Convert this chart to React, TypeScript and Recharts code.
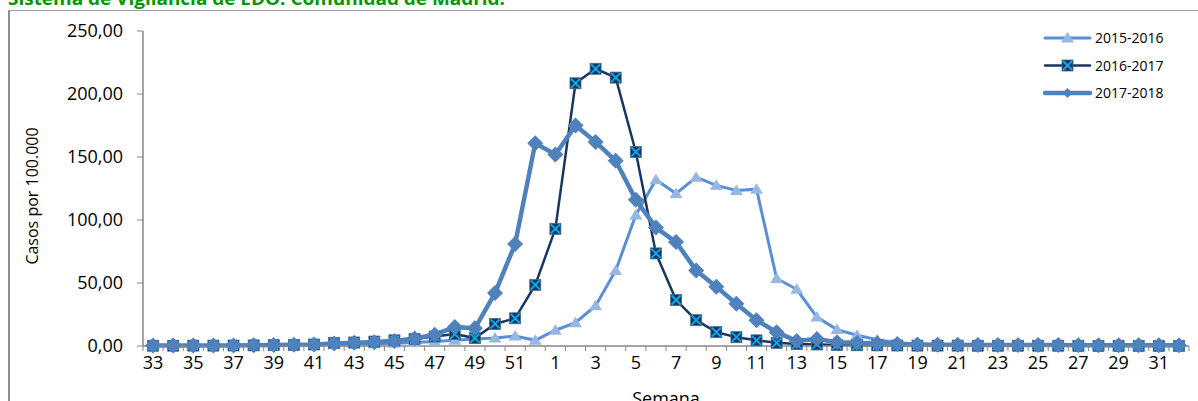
import React from 'react';
import { LineChart, Line, XAxis, YAxis } from 'recharts';

const weeks: number[] = [
  33, 34, 35, 36, 37, 38, 39, 40, 41, 42, 43, 44, 45, 46, 47, 48, 49, 50, 51, 52,
  1, 2, 3, 4, 5, 6, 7, 8, 9, 10, 11, 12, 13, 14, 15, 16, 17, 18, 19, 20, 21, 22, 23, 24, 25, 26, 27, 28, 29, 30, 31, 32,
];

const s1516: number[] = [
  0.3, 0.3, 0.3, 0.4, 0.5, 0.6, 0.7, 0.9, 1, 1.2, 1.5, 1.8, 2.2, 2.8, 3.5, 4.5, 5.5, 6.3, 8, 4.5,
  12.5, 18.5, 32, 60, 104, 132, 121, 134, 127.5, 123.5, 124.5, 53.5, 45, 23, 13, 8.5, 5, 2.5, 1.5, 1, 0.8, 0.6,
  0.5, 0.4, 0.4, 0.3, 0.3, 0.3, 0.2, 0.2, 0.2, 0.2,
];

const s1617: number[] = [
  0.2, 0.2, 0.3, 0.3, 0.4, 0.5, 0.7, 0.9, 1.2, 2.5, 2.8, 3.5, 4.5, 5.5, 7.5, 9.5, 6.3, 17.5, 22, 48.5,
  93, 208.5, 220, 213, 154, 73.5, 36.5, 20.5, 11, 7, 4.5, 2.5, 1.5, 1.2, 0.8, 0.6, 0.5,
  0.4, 0.3, 0.3, 0.3, 0.2, 0.2, 0.2, 0.2, 0.2, 0.1, 0.1, 0.1, 0.1, 0.1, 0.1,
];

const s1718: number[] = [
  0.3, 0.3, 0.3, 0.3, 0.4, 0.6, 0.7, 1, 1.2, 2, 2.5, 3, 4, 6, 9, 15, 14, 42, 81, 161,
  152, 175, 162, 147, 116, 94, 82.5, 60, 47, 33.5, 20.5, 11, 4, 5.5, 3, 2.5, 2, 1.5, 1.2, 1,
  0.9, 0.8, 0.8, 0.7, 0.7, 0.7, 0.6, 0.6, 0.6, 0.6, 0.6, 0.6,
];

const yTicks: number[] = [0, 50, 100, 150, 200, 250];

const seriesNames = ['2015-2016', '2016-2017', '2017-2018'];

const data = weeks.map((w, i) => ({
  week: String(w),
  a: s1516[i],
  b: s1617[i],
  c: s1718[i],
}));

const FONT = '"Open Sans", sans-serif';
const PLOT_W = 1046;
const STEP = PLOT_W / weeks.length;

const C_TRI_LINE = '#5A8ED6';
const C_TRI = '#95B7E4';
const C_SQ = '#17375E';
const C_X = '#00B0F0';
const C_DIA = '#4F81BD';

const triangle = (cx: number, cy: number, key?: string) => (
  <path key={key} d={`M${cx},${cy - 6} L${cx + 6.5},${cy + 4.5} L${cx - 6.5},${cy + 4.5} Z`} fill={C_TRI} />
);
const square = (cx: number, cy: number, key?: string) => (
  <g key={key}>
    <rect x={cx - 5.5} y={cy - 5.5} width={11} height={11} fill={C_SQ} stroke="#4a6a8e" strokeWidth={0.8} />
    <path d={`M${cx - 4.5},${cy - 4.5} L${cx + 4.5},${cy + 4.5} M${cx + 4.5},${cy - 4.5} L${cx - 4.5},${cy + 4.5}`} stroke={C_X} strokeWidth={1.8} />
  </g>
);
const diamond = (cx: number, cy: number, key?: string) => (
  <path key={key} d={`M${cx},${cy - 8} L${cx + 8},${cy} L${cx},${cy + 8} L${cx - 8},${cy} Z`} fill={C_DIA} />
);

const XTick = (props: any) => {
  const { x, y, payload, index } = props;
  const last = index === weeks.length - 1;
  return (
    <g>
      <line x1={x - STEP / 2} x2={x - STEP / 2} y1={y} y2={y + 5} stroke="#868686" strokeWidth={1} />
      {last && <line x1={x + STEP / 2} x2={x + STEP / 2} y1={y} y2={y + 5} stroke="#868686" strokeWidth={1} />}
      {index % 2 === 0 && (
        <text x={x} y={y + 23} textAnchor="middle" fontFamily={FONT} fontSize={18} fill="#000">
          {payload.value}
        </text>
      )}
    </g>
  );
};

const fmt = (v: number) => v.toFixed(2).replace('.', ',');

const legendRows = [
  { name: seriesNames[0], color: C_TRI_LINE, w: 3, m: triangle },
  { name: seriesNames[1], color: C_SQ, w: 2.5, m: square },
  { name: seriesNames[2], color: C_DIA, w: 4.5, m: (cx: number, cy: number) => (
    <path d={`M${cx},${cy - 5} L${cx + 5},${cy} L${cx},${cy + 5} L${cx - 5},${cy} Z`} fill={C_DIA} />
  ) },
];

export default function App() {
  return (
    <div style={{ position: 'absolute', left: 0, top: 0, width: 1198, height: 401, overflow: 'hidden', background: '#fff' }}>
      <svg width={1198} height={401} style={{ position: 'absolute', left: 0, top: 0 }}>
        <line x1={9} x2={9} y1={10} y2={401} stroke="#8e8e8e" strokeWidth={2} />
        <line x1={8} x2={1198} y1={10.5} y2={10.5} stroke="#a0a0a0" strokeWidth={1.2} />
        <text x={8} y={5} fontFamily={FONT} fontWeight={700} fontSize={17} fill="#009A00" textLength={497} lengthAdjust="spacingAndGlyphs">
          Sistema de Vigilancia de EDO. Comunidad de Madrid.
        </text>
        <text x={38} y={196} transform="rotate(-90 38 196)" textAnchor="middle" fontFamily={FONT} fontSize={16} fill="#000">
          Casos por 100.000
        </text>
        <text x={666} y={405} textAnchor="middle" fontFamily={FONT} fontSize={18} fill="#000">
          Semana
        </text>
      </svg>
      <div style={{ position: 'absolute', left: 0, top: 0 }}>
        <LineChart width={1198} height={401} data={data} margin={{ top: 31, right: 9, bottom: 25, left: 63 }}>
          <XAxis
            dataKey="week"
            interval={0}
            tick={<XTick />}
            tickLine={false}
            tickSize={0}
            tickMargin={0}
            height={30}
            padding={{ left: STEP / 2, right: STEP / 2 }}
            axisLine={{ stroke: '#868686', strokeWidth: 1.5 }}
          />
          <YAxis
            width={80}
            domain={[0, 250]}
            ticks={yTicks}
            tickFormatter={fmt}
            tick={{ fontFamily: FONT, fontSize: 18, fill: '#000' }}
            tickSize={6}
            tickMargin={14}
            tickLine={{ stroke: '#868686' }}
            axisLine={{ stroke: '#868686', strokeWidth: 1.5 }}
          />
          <Line
            dataKey="a"
            name={seriesNames[0]}
            stroke={C_TRI_LINE}
            strokeWidth={3}
            isAnimationActive={false}
            dot={(p: any) => triangle(p.cx, p.cy, `a-${p.index}`)}
            activeDot={false}
          />
          <Line
            dataKey="b"
            name={seriesNames[1]}
            stroke={C_SQ}
            strokeWidth={2.5}
            isAnimationActive={false}
            dot={(p: any) => square(p.cx, p.cy, `b-${p.index}`)}
            activeDot={false}
          />
          <Line
            dataKey="c"
            name={seriesNames[2]}
            stroke={C_DIA}
            strokeWidth={4.5}
            isAnimationActive={false}
            dot={(p: any) => diamond(p.cx, p.cy, `c-${p.index}`)}
            activeDot={false}
          />
        </LineChart>
      </div>
      <svg width={150} height={90} style={{ position: 'absolute', left: 1040, top: 24 }}>
        {legendRows.map((r, i) => {
          const cy = 14 + i * 27.5;
          return (
            <g key={r.name}>
              <line x1={5} x2={50} y1={cy} y2={cy} stroke={r.color} strokeWidth={r.w} strokeLinecap="round" />
              {r.m(27.5, cy)}
              <text x={55} y={cy + 5} fontFamily={FONT} fontSize={14} fill="#000">
                {r.name}
              </text>
            </g>
          );
        })}
      </svg>
    </div>
  );
}
